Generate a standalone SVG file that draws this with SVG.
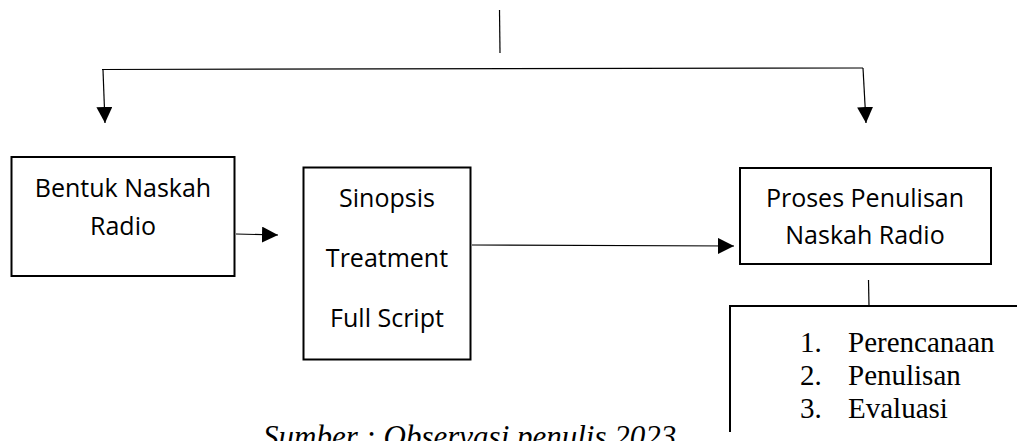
<svg xmlns="http://www.w3.org/2000/svg" width="1017" height="441" viewBox="0 0 1017 441">
<style>
.box{fill:#fff;stroke:#000;stroke-width:2}
.ln{fill:none;stroke:#000;stroke-width:1.2}
.sans{font-family:"Open Sans","Liberation Sans",sans-serif;font-size:25px;fill:#000;text-anchor:middle}
.serif{font-family:"Liberation Serif","Times New Roman",serif;font-size:29px;fill:#000}
.caption{font-family:"Liberation Serif","Times New Roman",serif;font-size:31px;font-style:italic;fill:#000}
</style>
<defs>
<marker id="ah" markerUnits="userSpaceOnUse" markerWidth="16" markerHeight="16" refX="16" refY="8" orient="auto">
<path d="M0,0 L16,8 L0,16 Z" fill="#000"/>
</marker>
</defs>
<rect width="1017" height="441" fill="#fff"/>
<g id="connectors">
<line class="ln" x1="499.5" y1="10" x2="500" y2="53"/>
<polyline class="ln" points="102,69.5 863,68"/>
<line class="ln" x1="103" y1="70" x2="105" y2="123" marker-end="url(#ah)"/>
<line class="ln" x1="863" y1="68" x2="866" y2="123" marker-end="url(#ah)"/>
<line class="ln" x1="236" y1="234" x2="278" y2="235" marker-end="url(#ah)"/>
<line class="ln" x1="472" y1="245" x2="734" y2="246" marker-end="url(#ah)"/>
<line class="ln" x1="868.5" y1="280" x2="869" y2="306"/>
</g>
<g id="node-bentuk">
<rect class="box" x="11.5" y="157" width="223" height="119"/>
<text class="sans" x="123" y="197">Bentuk Naskah</text>
<text class="sans" x="123" y="235">Radio</text>
</g>
<g id="node-sinopsis">
<rect class="box" x="303.5" y="167.5" width="167" height="192"/>
<text class="sans" x="387" y="207">Sinopsis</text>
<text class="sans" x="387" y="267">Treatment</text>
<text class="sans" x="387" y="327">Full Script</text>
</g>
<g id="node-proses">
<rect class="box" x="740" y="168" width="251" height="96"/>
<text class="sans" x="865" y="207">Proses Penulisan</text>
<text class="sans" x="865" y="244">Naskah Radio</text>
</g>
<g id="node-tahapan">
<path d="M730,432 L730,306 L1017,306" fill="none" stroke="#000" stroke-width="2"/>
<text class="serif" x="800" y="352">1.</text>
<text class="serif" x="848" y="352">Perencanaan</text>
<text class="serif" x="800" y="385">2.</text>
<text class="serif" x="848" y="385">Penulisan</text>
<text class="serif" x="800" y="418">3.</text>
<text class="serif" x="848" y="418">Evaluasi</text>
</g>
<text class="caption" x="263" y="446.5">Sumber : Observasi penulis 2023</text>
</svg>
